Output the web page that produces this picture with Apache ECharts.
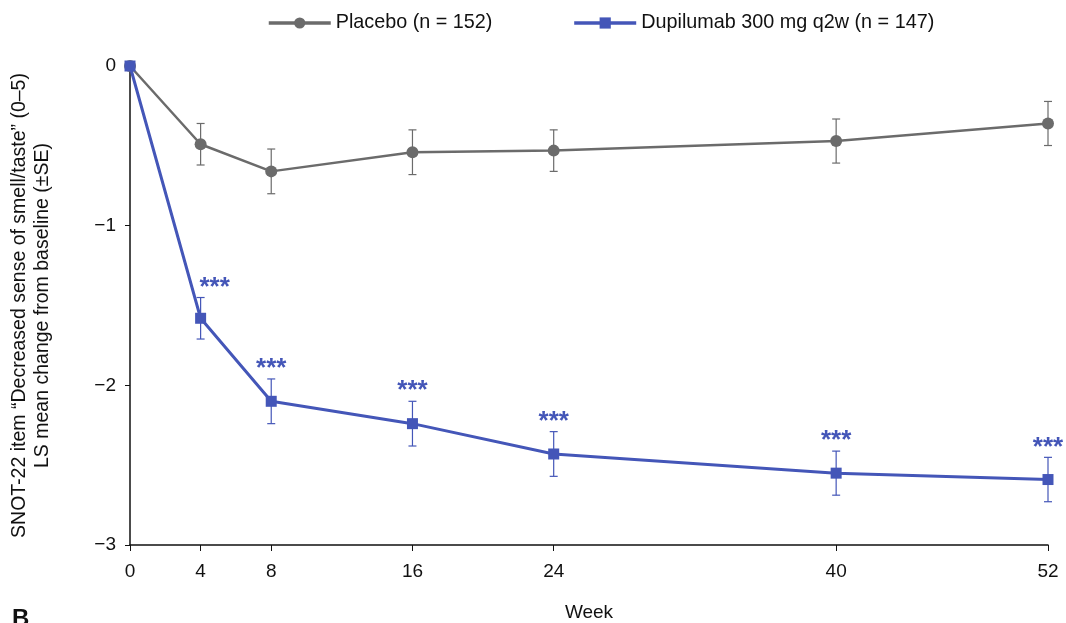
<!DOCTYPE html>
<html lang="en">
<head>
    <meta charset="UTF-8">
    <title>SNOT-22 smell/taste</title>
    <script src="https://cdn.jsdelivr.net/npm/echarts@6/dist/echarts.min.js"></script>
    <style>
        html, body { margin: 0; padding: 0; background: #fff; }
        #main { width: 1066px; height: 623px; }
    </style>
</head>
<body>
<div id="main"></div>
<script type="text/javascript">
    var weeks = [0, 4, 8, 16, 24, 40, 52];
    var placebo = [0, -0.49, -0.66, -0.54, -0.53, -0.47, -0.36];
    var placeboSE = [0, 0.13, 0.14, 0.14, 0.13, 0.138, 0.138];
    var dupilumab = [0, -1.58, -2.10, -2.24, -2.43, -2.55, -2.59];
    var dupilumabSE = [0, 0.13, 0.14, 0.14, 0.14, 0.138, 0.139];
    var dupStars = ['', '***', '***', '***', '***', '***', '***'];

    var grey = '#6b6b6b';
    var blue = '#4456b8';
    var font = 'Liberation Sans, Arial, sans-serif';
    // the week-4 stars sit a bit to the right so they clear the steep line
    var starShift = { 4: 14 };

    function pairs(vals) {
        return weeks.map(function (w, i) { return [w, vals[i]]; });
    }

    function errData(vals, se, stars) {
        var out = [];
        for (var i = 0; i < weeks.length; i++) {
            if (se[i] > 0) {
                out.push([weeks[i], vals[i] - se[i], vals[i] + se[i], stars ? stars[i] : '']);
            }
        }
        return out;
    }

    // vertical error bar with caps, plus optional significance text on top
    function errRender(color) {
        return function (params, api) {
            var lo = api.coord([api.value(0), api.value(1)]);
            var hi = api.coord([api.value(0), api.value(2)]);
            var w = 4;
            var st = { stroke: color, lineWidth: 1.2 };
            var kids = [
                { type: 'line', shape: { x1: lo[0], y1: lo[1], x2: hi[0], y2: hi[1] }, style: st },
                { type: 'line', shape: { x1: lo[0] - w, y1: lo[1], x2: lo[0] + w, y2: lo[1] }, style: st },
                { type: 'line', shape: { x1: hi[0] - w, y1: hi[1], x2: hi[0] + w, y2: hi[1] }, style: st }
            ];
            var s = api.value(3);
            if (s) {
                kids.push({
                    type: 'text',
                    style: {
                        x: hi[0] + (starShift[api.value(0)] || 0), y: hi[1] - 10, text: s,
                        fill: color, font: 'bold 26px ' + font,
                        align: 'center', verticalAlign: 'middle'
                    }
                });
            }
            return { type: 'group', children: kids };
        };
    }

    var chart = echarts.init(document.getElementById('main'));
    var option = {
        backgroundColor: '#fff',
        animation: false,
        textStyle: { fontFamily: font },
        legend: {
            top: 8,
            left: 262,
            itemGap: 80,
            itemWidth: 62,
            itemHeight: 14,
            lineStyle: { width: 3.5 },
            textStyle: { fontSize: 19.8, color: '#111', fontFamily: font },
            data: ['Placebo (n = 152)', 'Dupilumab 300 mg q2w (n = 147)']
        },
        grid: { left: 130, right: 18, top: 66, bottom: 78, outerBoundsMode: 'none' },
        xAxis: {
            type: 'value',
            min: 0,
            max: 52,
            name: 'Week',
            nameLocation: 'middle',
            nameGap: 58,
            nameTextStyle: { fontSize: 19, color: '#111' },
            axisLine: { onZero: false, lineStyle: { color: '#111', width: 1.5 } },
            axisTick: { show: true, customValues: weeks, length: 6, lineStyle: { color: '#111' } },
            axisLabel: { customValues: weeks, fontSize: 19, color: '#111', margin: 17 },
            splitLine: { show: false }
        },
        yAxis: {
            type: 'value',
            min: -3,
            max: 0,
            interval: 1,
            name: 'SNOT-22 item \u201cDecreased sense of smell/taste\u201d (0\u20135)\nLS mean change from baseline (\u00b1SE)',
            nameLocation: 'middle',
            nameGap: 76,
            nameTextStyle: { fontSize: 19.5, color: '#111', lineHeight: 23 },
            axisLine: { show: true, onZero: false, lineStyle: { color: '#111', width: 1.5 } },
            axisTick: { show: true, length: 5, lineStyle: { color: '#111' } },
            axisLabel: {
                fontSize: 19, color: '#111', margin: 14,
                formatter: function (v) { return v < 0 ? '\u2212' + Math.abs(v) : String(v); }
            },
            splitLine: { show: false }
        },
        series: [
            {
                name: 'Placebo (n = 152)',
                type: 'line',
                data: pairs(placebo),
                symbol: 'circle',
                symbolSize: 12,
                itemStyle: { color: grey },
                lineStyle: { color: grey, width: 2.5 },
                z: 3
            },
            {
                type: 'custom',
                renderItem: errRender(grey),
                data: errData(placebo, placeboSE),
                encode: { x: 0, y: [1, 2] },
                z: 2
            },
            {
                name: 'Dupilumab 300 mg q2w (n = 147)',
                type: 'line',
                data: pairs(dupilumab),
                symbol: 'rect',
                symbolSize: 11,
                itemStyle: { color: blue },
                lineStyle: { color: blue, width: 3 },
                z: 5
            },
            {
                type: 'custom',
                renderItem: errRender(blue),
                data: errData(dupilumab, dupilumabSE, dupStars),
                encode: { x: 0, y: [1, 2] },
                z: 4
            }
        ],
        graphic: [
            {
                type: 'text',
                left: 12,
                top: 607,
                style: { text: 'B', font: 'bold 24px ' + font, fill: '#111' }
            }
        ]
    };
    chart.setOption(option);
</script>
</body>
</html>
